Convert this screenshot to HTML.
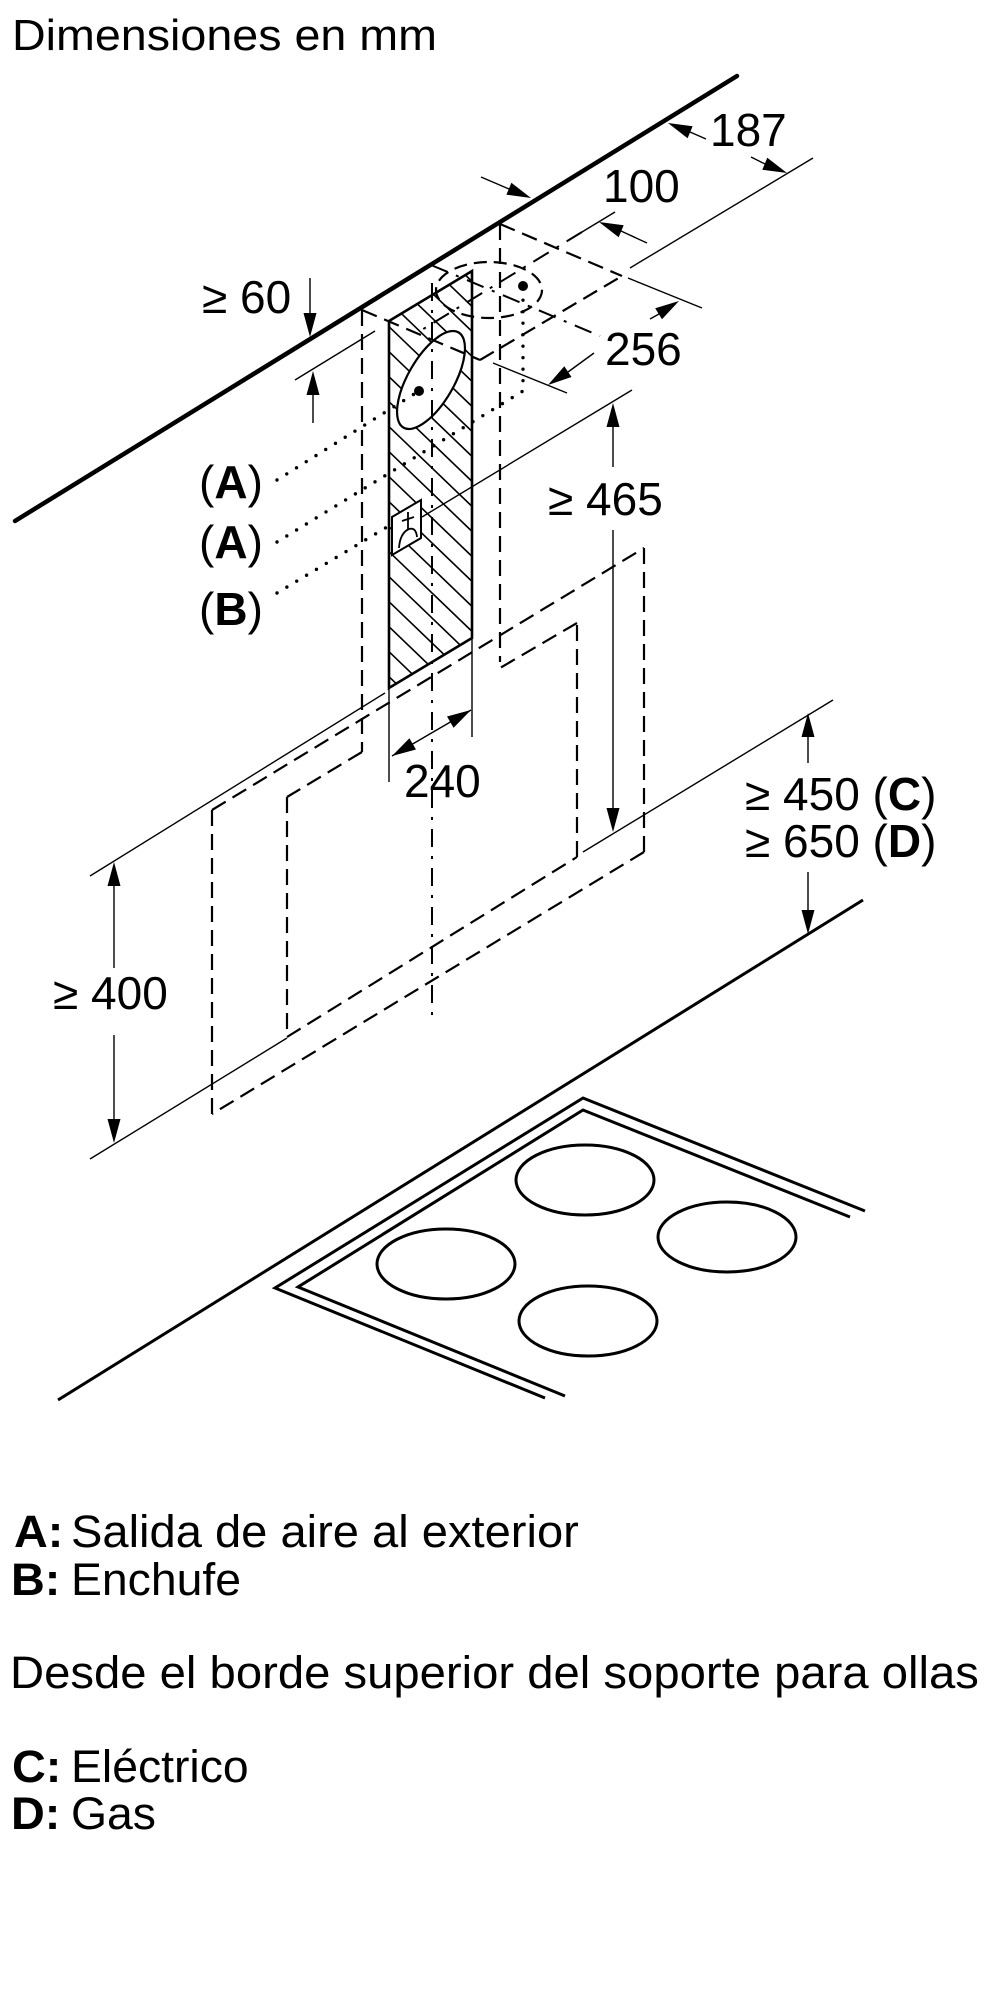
<!DOCTYPE html>
<html><head><meta charset="utf-8">
<style>
html,body{margin:0;padding:0;background:#fff;}
svg{display:block;}
text{font-family:"Liberation Sans",Arial,sans-serif;fill:#000;}
</style></head><body>
<svg width="1000" height="2000" viewBox="0 0 1000 2000" xmlns="http://www.w3.org/2000/svg">
<defs>
<clipPath id="hc"><polygon points="389,321 472,271 472,638 389,688"/></clipPath>
</defs>
<rect width="1000" height="2000" fill="#fff"/>

<!-- Title -->
<text x="0" y="0" transform="translate(12,50) scale(1.06,1)" font-size="44">Dimensiones en mm</text>

<!-- Wall / ceiling line -->
<line x1="15" y1="521" x2="737" y2="76" stroke="#000" stroke-width="4.5" stroke-linecap="round"/>

<!-- Hatch -->
<g clip-path="url(#hc)" stroke="#000" stroke-width="1.6">
<line x1="389" y1="201.7" x2="472" y2="281.4"/>
<line x1="389" y1="226.7" x2="472" y2="306.4"/>
<line x1="389" y1="251.7" x2="472" y2="331.4"/>
<line x1="389" y1="276.7" x2="472" y2="356.4"/>
<line x1="389" y1="301.7" x2="472" y2="381.4"/>
<line x1="389" y1="326.7" x2="472" y2="406.4"/>
<line x1="389" y1="351.7" x2="472" y2="431.4"/>
<line x1="389" y1="376.7" x2="472" y2="456.4"/>
<line x1="389" y1="401.7" x2="472" y2="481.4"/>
<line x1="389" y1="426.7" x2="472" y2="506.4"/>
<line x1="389" y1="451.7" x2="472" y2="531.4"/>
<line x1="389" y1="476.7" x2="472" y2="556.4"/>
<line x1="389" y1="501.7" x2="472" y2="581.4"/>
<line x1="389" y1="526.7" x2="472" y2="606.4"/>
<line x1="389" y1="551.7" x2="472" y2="631.4"/>
<line x1="389" y1="576.7" x2="472" y2="656.4"/>
<line x1="389" y1="601.7" x2="472" y2="681.4"/>
<line x1="389" y1="626.7" x2="472" y2="706.4"/>
<line x1="389" y1="651.7" x2="472" y2="731.4"/>
<line x1="389" y1="676.7" x2="472" y2="756.4"/>
</g>
<polygon points="389,321 472,271 472,638 389,688" fill="none" stroke="#000" stroke-width="2.6" stroke-linejoin="miter"/>

<!-- Big outlet ellipse -->
<ellipse cx="0" cy="0" rx="23" ry="55" transform="translate(431,380) rotate(30)" fill="#fff" stroke="#000" stroke-width="2.2"/>

<!-- Plug box -->
<polygon points="392,517 421,500 421,538 392,555" fill="#fff" stroke="#000" stroke-width="2"/>
<path d="M399,548 Q400,533 409,529 Q416,527 417,537 M408,529 L408,512 M402,521 L414,517" fill="none" stroke="#000" stroke-width="1.8"/>

<!-- Thin lines (extension lines) -->
<g stroke="#000" stroke-width="1.4" fill="none">
<line x1="295" y1="380" x2="375" y2="331"/>
<line x1="813" y1="158" x2="630" y2="268"/>
<line x1="615" y1="212" x2="582" y2="232"/>
<line x1="493" y1="363" x2="567" y2="393"/>
<line x1="628" y1="278" x2="702" y2="308"/>
<line x1="422" y1="517" x2="632" y2="390"/>
<line x1="583" y1="852" x2="833" y2="700"/>
<line x1="90" y1="876" x2="385" y2="693"/>
<line x1="90" y1="1159" x2="287" y2="1038"/>
<line x1="389" y1="688" x2="389" y2="782"/>
<line x1="472" y1="638" x2="472" y2="737"/>
<line x1="392" y1="756" x2="471" y2="710"/>
<!-- dimension shafts -->
<line x1="310" y1="278" x2="310" y2="316"/>
<line x1="313" y1="392" x2="313" y2="423"/>
<line x1="706" y1="139" x2="690" y2="132"/>
<line x1="751" y1="157" x2="765" y2="164"/>
<line x1="481" y1="177" x2="509" y2="189"/>
<line x1="647" y1="243" x2="621" y2="231"/>
<line x1="650" y1="319" x2="659" y2="314"/>
<line x1="594" y1="353" x2="568" y2="372"/>
<line x1="613" y1="425" x2="613" y2="467"/>
<line x1="613" y1="530" x2="613" y2="810"/>
<line x1="808" y1="735" x2="808" y2="763"/>
<line x1="808" y1="872" x2="808" y2="912"/>
<line x1="114" y1="884" x2="114" y2="968"/>
<line x1="114" y1="1035" x2="114" y2="1121"/>
</g>

<!-- Arrowheads -->
<g fill="#000">
<polygon points="310,337 303.5,313 316.5,313"/>
<polygon points="313,371 306.5,395 319.5,395"/>
<polygon points="668,123 692.6,126.3 687.6,138.3"/>
<polygon points="787,173 762.3,169.8 767.3,157.8"/>
<polygon points="531,198 506.4,194.7 511.4,182.7"/>
<polygon points="599,222 623.7,225.2 618.7,237.2"/>
<polygon points="679,301 662,319.2 655.2,308.2"/>
<polygon points="548,385 571.5,377 564.3,366.2"/>
<polygon points="613,403 606.5,427 619.5,427"/>
<polygon points="613,832 606.5,808 619.5,808"/>
<polygon points="808,713 801.5,737 814.5,737"/>
<polygon points="808,934 801.5,910 814.5,910"/>
<polygon points="114,862 107.5,886 120.5,886"/>
<polygon points="114,1143 107.5,1119 120.5,1119"/>
<polygon points="392,756 416,749.5 409.4,738.3"/>
<polygon points="471,710 453.6,727.7 447,716.5"/>
</g>

<!-- Dashed lines -->
<g stroke="#000" stroke-width="2.2" fill="none" stroke-dasharray="16 8">
<line x1="362" y1="310" x2="362" y2="752"/>
<line x1="500" y1="224" x2="500" y2="662"/>
<line x1="362" y1="310" x2="480" y2="360"/>
<line x1="480" y1="360" x2="622" y2="276"/>
<line x1="500" y1="224" x2="622" y2="276"/>
<!-- outer box -->
<line x1="212" y1="810" x2="644" y2="548"/>
<line x1="644" y1="548" x2="644" y2="852"/>
<line x1="644" y1="852" x2="212" y2="1114"/>
<line x1="212" y1="1114" x2="212" y2="810"/>
<!-- inner box -->
<line x1="362" y1="752" x2="287" y2="797"/>
<line x1="287" y1="797" x2="287" y2="1037"/>
<line x1="287" y1="1037" x2="577" y2="857"/>
<line x1="577" y1="857" x2="577" y2="623"/>
<line x1="577" y1="623" x2="500" y2="668"/>
</g>
<ellipse cx="489" cy="290" rx="53" ry="28" fill="none" stroke="#000" stroke-width="2.2" stroke-dasharray="13 7"/>

<!-- Center lines (dash-dot) -->
<g stroke="#000" stroke-width="2" fill="none" stroke-dasharray="18 9 3 9">
<line x1="432" y1="283" x2="432" y2="1020"/>
<line x1="582" y1="232" x2="420" y2="331"/>
<line x1="431" y1="265" x2="600" y2="336"/>
</g>

<!-- Dotted leaders -->
<g stroke="#000" stroke-width="3.4" fill="none" stroke-dasharray="0 11.5" stroke-linecap="round">
<polyline points="277,480 419,391"/>
<polyline points="277,542 523,391 523,290"/>
<polyline points="277,593 392,524"/>
</g>
<circle cx="419" cy="391" r="5" fill="#000"/>
<circle cx="523" cy="286" r="5" fill="#000"/>

<!-- Counter line -->
<line x1="58" y1="1400" x2="863" y2="900" stroke="#000" stroke-width="3"/>

<!-- Hob -->
<g stroke="#000" stroke-width="3" fill="none" stroke-linejoin="miter">
<polyline points="865,1211 583,1098 275,1288 545,1398"/>
<polyline points="850,1217 583,1110 298,1287 565,1396"/>
<ellipse cx="585" cy="1180" rx="69" ry="35"/>
<ellipse cx="446" cy="1264" rx="69" ry="35"/>
<ellipse cx="588" cy="1321" rx="69" ry="35"/>
<ellipse cx="727" cy="1237" rx="69" ry="35"/>
</g>

<!-- Dimension texts -->
<g font-size="46">
<text x="710" y="146">187</text>
<text x="603" y="202">100</text>
<text x="605" y="365">256</text>
<text x="202" y="313">≥ 60</text>
<text x="548" y="515">≥ 465</text>
<text x="404" y="797">240</text>
<text x="53" y="1009">≥ 400</text>
<text x="745" y="810">≥ 450 (<tspan font-weight="bold">C</tspan>)</text>
<text x="745" y="857">≥ 650 (<tspan font-weight="bold">D</tspan>)</text>
<text x="199" y="498">(<tspan font-weight="bold">A</tspan>)</text>
<text x="199" y="558">(<tspan font-weight="bold">A</tspan>)</text>
<text x="199" y="625">(<tspan font-weight="bold">B</tspan>)</text>
</g>

<!-- Legend -->
<g font-size="45">
<text x="0" y="0" transform="translate(14,1547) scale(1.04,1)" font-weight="bold">A:</text>
<text x="0" y="0" transform="translate(71,1547) scale(1.047,1)">Salida de aire al exterior</text>
<text x="0" y="0" transform="translate(11,1595) scale(1.04,1)" font-weight="bold">B:</text>
<text x="0" y="0" transform="translate(71,1595) scale(1.03,1)">Enchufe</text>
<text x="0" y="0" transform="translate(10,1688) scale(1.05,1)">Desde el borde superior del soporte para ollas</text>
<text x="0" y="0" transform="translate(12,1782) scale(1.04,1)" font-weight="bold">C:</text>
<text x="0" y="0" transform="translate(71,1782) scale(1.03,1)">Eléctrico</text>
<text x="0" y="0" transform="translate(11,1829) scale(1.04,1)" font-weight="bold">D:</text>
<text x="0" y="0" transform="translate(71,1829) scale(1.03,1)">Gas</text>
</g>
</svg>
</body></html>
